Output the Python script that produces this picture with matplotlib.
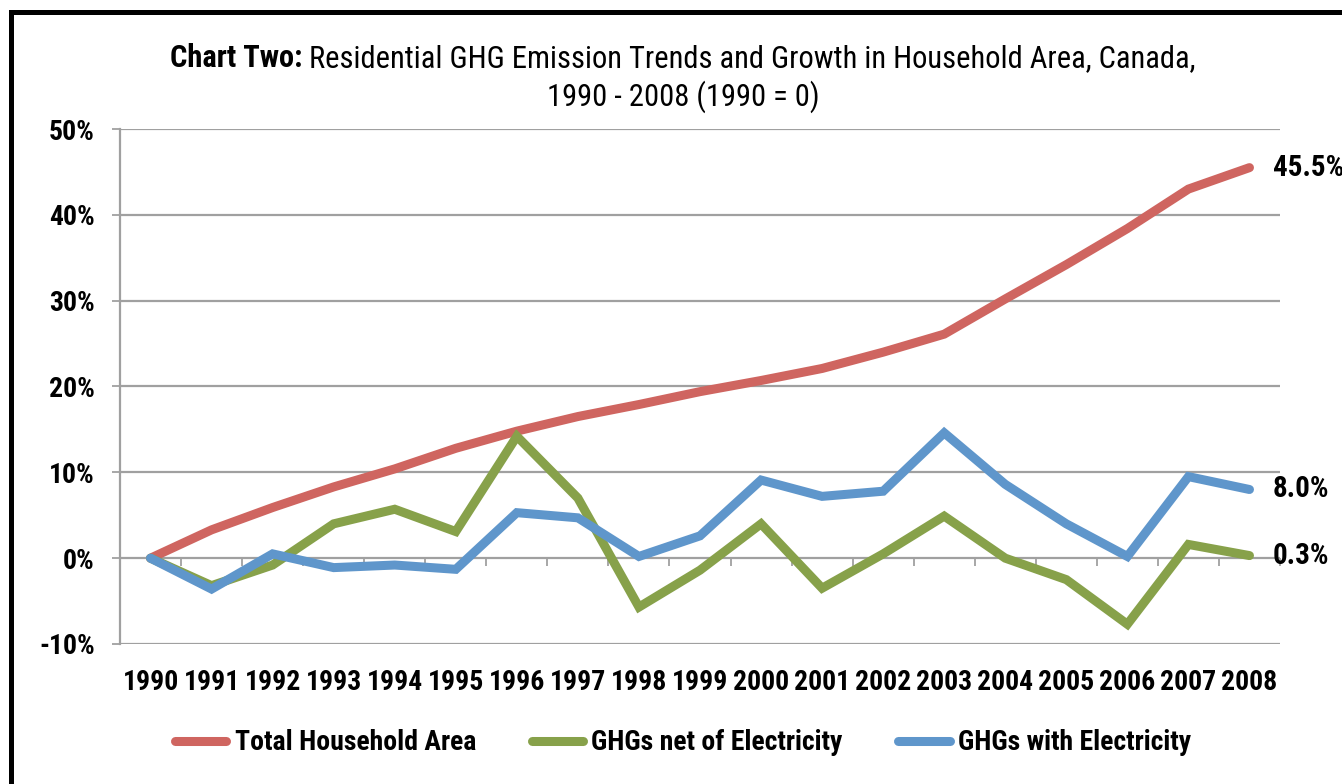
import numpy as np
import matplotlib
matplotlib.use('Agg')
import matplotlib.pyplot as plt
from matplotlib import font_manager
from matplotlib.patches import Rectangle

# Chart data (percent change since 1990)
years = [str(y) for y in range(1990, 2009)]
householdArea = [0.0, 3.3, 5.9, 8.3, 10.4, 12.8, 14.8, 16.5, 17.9, 19.4,
                 20.7, 22.1, 24.0, 26.1, 30.2, 34.2, 38.4, 43.0, 45.5]
ghgNetElec = [0.0, -3.2, -0.8, 4.0, 5.7, 3.1, 14.2, 7.0, -5.7, -1.4,
              4.0, -3.5, 0.5, 4.9, 0.0, -2.5, -7.7, 1.6, 0.3]
ghgWithElec = [0.0, -3.6, 0.5, -1.1, -0.8, -1.3, 5.3, 4.7, 0.2, 2.6,
               9.1, 7.2, 7.8, 14.6, 8.6, 4.0, 0.2, 9.5, 8.0]
seriesNames = ['Total Household Area', 'GHGs net of Electricity',
               'GHGs with Electricity']
seriesColors = ['#CF6560', '#87A14A', '#5F96CB']
yTicks = [-10, 0, 10, 20, 30, 40, 50]


def findNarrow():
    # Look for a condensed face; else fall back to Liberation Sans, smaller.
    wanted = ['Liberation Sans Narrow', 'Arial Narrow', 'Roboto Condensed',
              'Open Sans Condensed', 'Noto Sans', 'DejaVu Sans']
    narrow = ('condensed', 'semi-condensed', 'extra-condensed')
    for fam in wanted:
        faces = [f for f in font_manager.fontManager.ttflist
                 if f.name == fam and f.style == 'normal'
                 and (f.stretch in narrow or 'Narrow' in fam
                      or 'Condensed' in fam)]
        reg = [f for f in faces if f.weight in (400, 'normal', 'regular')]
        bld = [f for f in faces if f.weight in (700, 'bold')]
        if reg and bld:
            return reg[0].fname, bld[0].fname, 1.0
    return None, None, 0.8


regFile, boldFile, sizeScale = findNarrow()


def fp(size, bold=False):
    size = size*sizeScale
    if regFile is None:
        return font_manager.FontProperties(
            family='Liberation Sans', size=size,
            weight='bold' if bold else 'normal')
    return font_manager.FontProperties(
        fname=boldFile if bold else regFile, size=size)


W, H = 1342, 784
fig = plt.figure(figsize=(W/100, H/100), dpi=100)
ax = fig.add_axes([120/W, 1 - 644/H, 1160/W, 515/H])

x = np.arange(len(years))
allSeries = [householdArea, ghgNetElec, ghgWithElec]
for vals, name, col in zip(allSeries, seriesNames, seriesColors):
    ax.plot(x, vals, color=col, lw=6.5, label=name,
            solid_capstyle='round', solid_joinstyle='miter', zorder=3)

ax.set_xlim(-0.5, len(years) - 0.5)
ax.set_ylim(-10, 50)
ax.set_yticks(yTicks)
ax.set_yticklabels(['%d%%' % v for v in yTicks])
for lab in ax.get_yticklabels():
    lab.set_fontproperties(fp(20, True))
ax.yaxis.grid(True, color='#A0A0A0', lw=1.6)
ax.set_axisbelow(True)
ax.tick_params(axis='y', length=6, width=1.3, color='#A0A0A0', pad=12)

ax.set_xticks(x)
ax.set_xticklabels(years)
for lab in ax.get_xticklabels():
    lab.set_fontproperties(fp(20, True))
ax.tick_params(axis='x', length=0, pad=18)

for s in ['top', 'right', 'bottom']:
    ax.spines[s].set_visible(False)
ax.spines['left'].set_color('#A0A0A0')
ax.spines['left'].set_linewidth(1.6)

# category axis crossing at 0 with tick marks between categories
secAx = ax.secondary_xaxis(10/60)
secAx.set_xticks(np.arange(len(years) + 1) - 0.5)
secAx.set_xticklabels([])
secAx.tick_params(length=6, width=1.3, color='#A0A0A0', direction='out')
secAx.spines['bottom'].set_visible(False)

# end labels
endVals = [householdArea[-1], ghgWithElec[-1], ghgNetElec[-1]]
for v in endVals:
    ax.annotate('%.1f%%' % v, xy=(x[-1], v), xytext=(17, 0),
                textcoords='offset points', ha='left', va='center',
                fontproperties=fp(21, True), annotation_clip=False)

# title, bold lead-in followed by normal text
t1 = fig.text(175/W, 1 - 58/H, 'Chart Two:', fontproperties=fp(22, True),
              ha='left', va='center')
t2 = ax.annotate(' Residential GHG Emission Trends and Growth in Household '
                 'Area, Canada,', xy=(1, 0), xycoords=t1,
                 fontproperties=fp(22), ha='left', va='bottom',
                 annotation_clip=False)
fig.text(683/W, 1 - 97/H, '1990 - 2008 (1990 = 0)', fontproperties=fp(22),
         ha='center', va='center')

# centre the first title line
fig.canvas.draw()
rend = fig.canvas.get_renderer()
b1 = t1.get_window_extent(rend)
b2 = t2.get_window_extent(rend)
totalW = b2.x1 - b1.x0
t1.set_x((683 - totalW/2)/W)

leg = fig.legend(loc='center', bbox_to_anchor=(683/W, 1 - 743/H), ncol=3,
                 frameon=False, prop=fp(20, True),
                 handlelength=1.85, handletextpad=0.3, columnspacing=2.0)

# black frame around the chart
fig.patches.append(Rectangle((11/W, -0.1), 1.2, 1.1 - 12.5/H, fill=False,
                             ec='black', lw=3.6, transform=fig.transFigure,
                             figure=fig))

fig.savefig('out.png', dpi=100)
